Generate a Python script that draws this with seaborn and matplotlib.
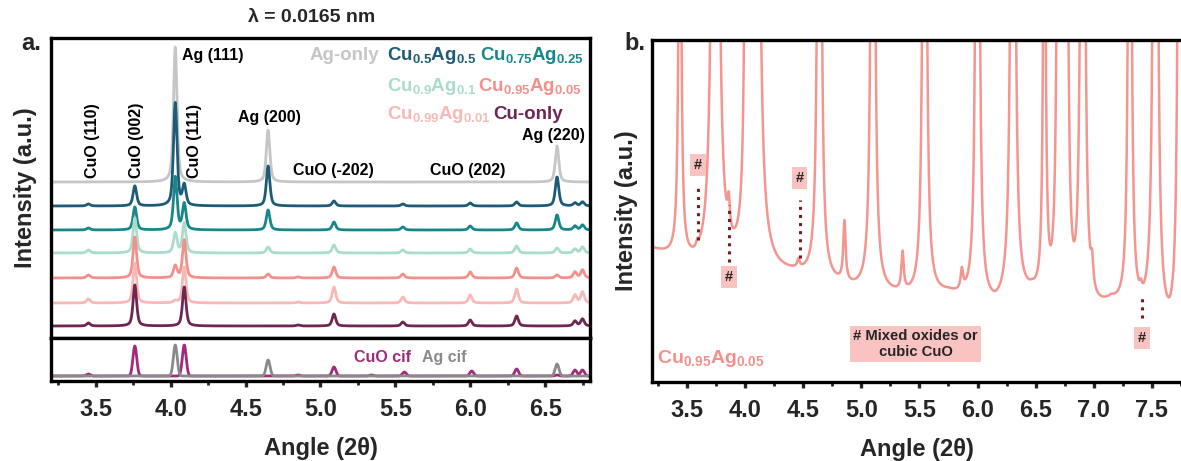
import numpy as np
import pandas as pd
import seaborn as sns
import matplotlib
matplotlib.use("Agg")
from matplotlib import pyplot as plt

# ---- panel a : stacked patterns (heights in px above each baseline) ----
pos_a = [3.45, 3.76, 4.03, 4.09, 4.65, 4.85, 5.09, 5.34, 5.55, 6.00, 6.31, 6.58, 6.70, 6.75]
names = ["Ag-only", "Cu0.5Ag0.5", "Cu0.75Ag0.25", "Cu0.9Ag0.1", "Cu0.95Ag0.05", "Cu0.99Ag0.01", "Cu-only"]
offsets = [156, 132, 108, 85, 60, 35, 12]
h_ag = [0, 0, 135, 0, 52, 0, 0, 0, 0, 0, 0, 36, 0, 0]
h_50 = [2, 20, 103, 20, 40, 0, 5, 0, 2, 3, 4, 29, 3, 4]
h_75 = [2, 23, 53, 26, 20, 0, 8, 0, 3, 4, 7, 15, 4, 5]
h_90 = [3, 35, 20, 30, 6, 0, 8, 0, 3, 4, 7, 5, 4, 6]
h_95 = [3, 41, 12, 38, 4, 1, 11, 0, 4, 6, 10, 3, 6, 8]
h_99 = [4, 40, 2, 36, 0, 1, 16, 0, 6, 8, 14, 0, 8, 11]
h_cu = [3, 41, 0, 39, 0, 1, 12, 0, 4, 6, 10, 0, 5, 7]
heights = [h_ag, h_50, h_75, h_90, h_95, h_99, h_cu]
colors = ["#c6c6c6", "#1d5b76", "#18878a", "#a9dcc9", "#f4908b", "#f8b9b6", "#6e2652"]
labels = ["Ag-only", "Cu$_{0.5}$Ag$_{0.5}$", "Cu$_{0.75}$Ag$_{0.25}$", "Cu$_{0.9}$Ag$_{0.1}$",
          "Cu$_{0.95}$Ag$_{0.05}$", "Cu$_{0.99}$Ag$_{0.01}$", "Cu-only"]

# reference cif patterns
cif_pos_cuo = [3.45, 3.76, 4.09, 4.85, 5.09, 5.34, 5.56, 6.01, 6.31, 6.58, 6.70, 6.75]
cif_h_cuo = [2, 30, 31, 1, 9, 1, 4, 5, 7, 1, 6, 6]
cif_pos_ag = [4.03, 4.65, 6.58]
cif_h_ag = [31, 16, 12]
cif_base = 5

# ---- panel b : Cu0.95Ag0.05 zoomed ----
pos_b = [3.44, 3.59, 3.745, 3.86, 4.01, 4.09, 4.46, 4.64, 4.855, 5.10, 5.355, 5.545, 5.865,
         6.00, 6.305, 6.575, 6.70, 6.76, 6.905, 6.985, 7.31, 7.405, 7.53, 7.74]
h_b = [520, 6, 3500, 30, 600, 4150, 8, 1230, 60, 1280, 38, 1230, 20,
       1230, 1670, 510, 1100, 1100, 1600, 25, 945, 8, 1800, 1300]
bg_x = [3.2, 3.6, 3.9, 4.45, 4.95, 5.45, 5.75, 6.15, 6.47, 6.64, 6.85, 7.15, 7.45, 7.65, 7.8]
bg_y = [131, 110, 106, 104, 90, 82, 85, 70, 80, 65, 55, 74, 58, 42, 42]


def pv(x, centers, amps, fwhm, eta):
    y = np.zeros_like(x)
    for c, a in zip(centers, amps):
        d = x - c
        lor = 1 / (1 + (2 * d / fwhm) ** 2)
        gau = np.exp(-4 * np.log(2) * (d / fwhm) ** 2)
        y += a * (eta * lor + (1 - eta) * gau)
    return y


sns.set_style("white")
plt.rcParams["font.family"] = ["Liberation Sans", "DejaVu Sans"]
plt.rcParams["font.weight"] = "bold"
plt.rcParams["axes.labelweight"] = "bold"
plt.rcParams["mathtext.fontset"] = "custom"
plt.rcParams["mathtext.rm"] = "Liberation Sans:bold"
plt.rcParams["mathtext.bf"] = "Liberation Sans:bold"
plt.rcParams["mathtext.default"] = "rm"

W, H = 1181, 461
fig = plt.figure(figsize=(W / 100, H / 100), dpi=100)
ax_a = fig.add_axes([51 / W, 1 - 338 / H, 539 / W, 300 / H])
ax_c = fig.add_axes([51 / W, 1 - 381 / H, 539 / W, 43 / H])
ax_b = fig.add_axes([652 / W, 1 - 382 / H, 529 / W, 342 / H])

x = np.linspace(3.2, 6.8, 2500)
frames = []
for n, off, hs in zip(names, offsets, heights):
    frames.append(pd.DataFrame({"angle": x, "intensity": off + pv(x, pos_a, hs, 0.028, 0.55), "sample": n}))
df_a = pd.concat(frames, ignore_index=True)
sns.lineplot(data=df_a, x="angle", y="intensity", hue="sample", hue_order=names,
             palette=dict(zip(names, colors)), estimator=None, sort=False,
             lw=2.0, legend=False, ax=ax_a)

df_c = pd.concat([
    pd.DataFrame({"angle": x, "intensity": cif_base + pv(x, cif_pos_cuo, cif_h_cuo, 0.03, 0.0), "ref": "CuO"}),
    pd.DataFrame({"angle": x, "intensity": cif_base + pv(x, cif_pos_ag, cif_h_ag, 0.03, 0.0), "ref": "Ag"}),
], ignore_index=True)
sns.lineplot(data=df_c, x="angle", y="intensity", hue="ref", hue_order=["CuO", "Ag"],
             palette={"CuO": "#a3297c", "Ag": "#8a8a8a"}, estimator=None, sort=False,
             lw=2.0, legend=False, ax=ax_c)

xb = np.linspace(3.2, 7.8, 4000)
yb = np.interp(xb, bg_x, bg_y) + pv(xb, pos_b, h_b, 0.024, 1.0)
sns.lineplot(x=xb, y=yb, color="#f4958f", lw=1.8, estimator=None, sort=False, ax=ax_b)

# axes styling
for ax in (ax_a, ax_c, ax_b):
    for s in ax.spines.values():
        s.set_linewidth(2.4)
        s.set_color("black")
    ax.set_yticks([])
    ax.set_ylabel("")
    ax.set_xlabel("")

ax_a.set_xlim(3.2, 6.8)
ax_a.set_ylim(0, 300)
ax_a.tick_params(axis="x", bottom=False, labelbottom=False)
ax_a.set_ylabel("Intensity (a.u.)", fontsize=17, labelpad=10)

ax_c.set_xlim(3.2, 6.8)
ax_c.set_ylim(0, 43)
ax_b.set_xlim(3.2, 7.741)
ax_b.set_ylim(0, 342)
ax_b.spines["right"].set_visible(False)
ax_b.set_ylabel("Intensity (a.u.)", fontsize=17, labelpad=10)

for ax in (ax_c, ax_b):
    ax.set_xticks(np.arange(3.5, 7.51 if ax is ax_b else 6.51, 0.5))
    ax.set_xticks(np.arange(3.25, 7.8 if ax is ax_b else 6.8, 0.5), minor=True)
    ax.tick_params(axis="x", which="major", bottom=True, direction="out", length=4,
                   width=2.4, pad=8, labelsize=17)
    ax.tick_params(axis="x", which="minor", bottom=True, direction="out", length=3, width=2)
    ax.set_xticklabels([f"{t:.1f}" for t in ax.get_xticks()], fontweight="bold")
    ax.set_xlabel("Angle (2θ)", fontsize=17, labelpad=12)

# peak labels panel a
ann = dict(fontsize=11.5, fontweight="bold", color="black")
for t, xx in [("CuO (110)", 3.474), ("CuO (002)", 3.774), ("CuO (111)", 4.16)]:
    ax_a.text(xx, 160, t, rotation=90, ha="center", va="bottom", **ann)
ax_a.text(4.075, 283, "Ag (111)", ha="left", va="center", **ann)
ax_a.text(4.449, 221, "Ag (200)", ha="left", va="center", **ann)
ax_a.text(4.817, 168, "CuO (-202)", ha="left", va="center", **ann)
ax_a.text(5.73, 168, "CuO (202)", ha="left", va="center", **ann)
ax_a.text(6.346, 203, "Ag (220)", ha="left", va="center", **ann)

# sample names
legend_pos = [(4.930, 278), (5.444, 278), (6.066, 278), (5.444, 247), (6.052, 247), (5.444, 219), (6.153, 219)]
for (lx, ly), lab, c in zip(legend_pos, labels, colors):
    ax_a.text(lx, ly, lab, color=c, fontsize=13.5, fontweight="bold", ha="left", va="baseline")

ax_c.text(5.224, 19, "CuO cif", color="#a3297c", fontsize=11.5, fontweight="bold", va="baseline")
ax_c.text(5.678, 19, "Ag cif", color="#8a8a8a", fontsize=11.5, fontweight="bold", va="baseline")

# panel b annotations
box = dict(boxstyle="square,pad=0.25", facecolor="#f9c3c1", edgecolor="none")
for hx, hy, lo, hi in [(3.595, 217, 142, 197), (3.861, 105, 120, 177), (4.470, 204, 124, 182), (7.415, 44, 64, 84)]:
    ax_b.text(hx, hy, "#", fontsize=10.5, fontweight="bold", ha="center", va="center", bbox=box)
    ax_b.plot([hx, hx], [lo, hi], ls=":", color="#7a1c1c", lw=2.2)
ax_b.text(5.466, 38, "# Mixed oxides or\ncubic CuO", fontsize=10.7, fontweight="bold",
          ha="center", va="center", multialignment="center",
          bbox=dict(boxstyle="square,pad=0.2", facecolor="#f9c3c1", edgecolor="none"))
ax_b.text(3.243, 19, "Cu$_{0.95}$Ag$_{0.05}$", color="#f4908b", fontsize=14, fontweight="bold",
          ha="left", va="baseline")

fig.text(312 / W, 1 - 18 / H, "λ = 0.0165 nm", fontsize=14, fontweight="bold", ha="center", va="center")
fig.text(31 / W, 1 - 44 / H, "a.", fontsize=17, fontweight="bold", ha="center", va="center")
fig.text(635 / W, 1 - 44 / H, "b.", fontsize=17, fontweight="bold", ha="center", va="center")

fig.savefig("out.png", dpi=100)
